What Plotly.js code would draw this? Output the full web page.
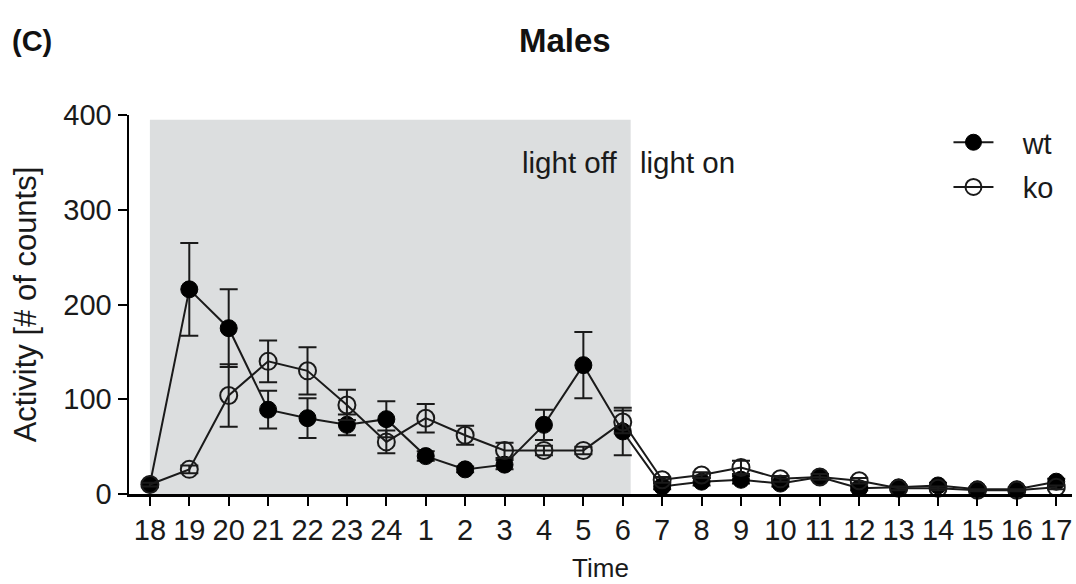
<!DOCTYPE html>
<html>
<head>
<meta charset="utf-8">
<script src="https://cdn.plot.ly/plotly-3.0.1.min.js"></script>
<style>html,body{margin:0;padding:0;background:#fff;}#chart{width:1076px;height:584px;}</style>
</head>
<body>
<div id="chart"></div>
<script>
const hours = ["18","19","20","21","22","23","24","1","2","3","4","5","6","7","8","9","10","11","12","13","14","15","16","17"];
const wtMean = [10, 216, 175, 89, 80, 73, 79, 40, 26, 31, 73, 136, 66, 8, 13, 15, 11, 18, 6, 7, 9, 5, 5, 13];
const wtErr  = [3, 49, 41, 20, 21, 11, 19, 5, 3, 5, 16, 35, 25, 3, 4, 4, 3, 3, 2, 2, 3, 2, 2, 3];
const koMean = [10, 26, 104, 140, 130, 94, 55, 80, 62, 46, 46, 46, 76, 15, 20, 28, 16, 18, 14, 6, 6, 4, 4, 7];
const koErr  = [2, 4, 33, 22, 25, 16, 12, 15, 10, 8, 5, 4, 12, 3, 3, 7, 3, 3, 3, 2, 2, 1, 1, 2];

const FONT = "Liberation Sans, Arial, Helvetica, sans-serif";
const INK = "#1a1a1a";

const koTrace = {
  x: hours, y: koMean, name: "&nbsp;&nbsp;&nbsp;ko", type: "scatter", mode: "lines+markers",
  legendgroup: "ko",
  line: {color: INK, width: 2},
  marker: {symbol: "circle-open", size: 17, color: INK, line: {width: 2, color: INK}},
  error_y: {type: "data", array: koErr, visible: true, color: INK, thickness: 2, width: 9},
  cliponaxis: false
};
const wtTrace = {
  x: hours, y: wtMean, name: "&nbsp;&nbsp;&nbsp;wt", type: "scatter", mode: "lines+markers",
  legendgroup: "wt",
  line: {color: INK, width: 2},
  marker: {symbol: "circle", size: 17, color: "#000", line: {width: 1, color: "#000"}},
  error_y: {type: "data", array: wtErr, visible: true, color: INK, thickness: 2, width: 9},
  cliponaxis: false
};

const layout = {
  width: 1076, height: 584,
  margin: {l: 129, r: 4, t: 115, b: 90},
  paper_bgcolor: "#fff", plot_bgcolor: "#fff",
  font: {family: FONT, color: INK, size: 28},
  showlegend: true,
  legend: {x: 0.869, y: 0.995, xanchor: "left", yanchor: "top", bgcolor: "rgba(0,0,0,0)",
           font: {size: 29, family: FONT, color: INK}, traceorder: "grouped", tracegroupgap: 4,
           itemwidth: 40},
  xaxis: {
    type: "category", range: [-0.53, 23.4],
    showline: true, linecolor: "#000", linewidth: 2.5,
    ticks: "outside", ticklen: 9, tickwidth: 2, tickcolor: "#000", tickangle: 0,
    showgrid: false, zeroline: false,
    tickfont: {size: 29, family: FONT, color: INK},
    title: {text: "Time", font: {size: 26, family: FONT, color: INK}, standoff: 14}
  },
  yaxis: {
    range: [0, 400], tickvals: [0, 100, 200, 300, 400],
    showline: true, linecolor: "#000", linewidth: 2.5,
    ticks: "outside", ticklen: 9, tickwidth: 2, tickcolor: "#000",
    showgrid: false, zeroline: false,
    tickfont: {size: 29, family: FONT, color: INK},
    title: {text: "Activity [# of counts]", font: {size: 31, family: FONT, color: INK}, standoff: 18}
  },
  shapes: [{
    type: "rect", layer: "below", xref: "x", yref: "y",
    x0: 0, x1: 12.2, y0: 0, y1: 395,
    fillcolor: "#dcdedf", line: {width: 0}
  }],
  annotations: [
    {text: "<b>(C)</b>", xref: "paper", yref: "paper", x: -0.126, y: 1.196, xanchor: "left", yanchor: "middle",
     showarrow: false, font: {size: 29, family: FONT, color: "#111"}},
    {text: "<b>Males</b>", xref: "paper", yref: "paper", x: 0.462, y: 1.196, xanchor: "center", yanchor: "middle",
     showarrow: false, font: {size: 33, family: FONT, color: "#111"}},
    {text: "light off", xref: "x", yref: "y", x: 10.65, y: 350, showarrow: false,
     font: {size: 29.5, family: FONT, color: INK}},
    {text: "light on", xref: "x", yref: "y", x: 13.64, y: 350, showarrow: false,
     font: {size: 29.5, family: FONT, color: INK}}
  ]
};

Plotly.newPlot("chart", [wtTrace, koTrace], layout, {displayModeBar: false, staticPlot: true});
</script>
</body>
</html>
